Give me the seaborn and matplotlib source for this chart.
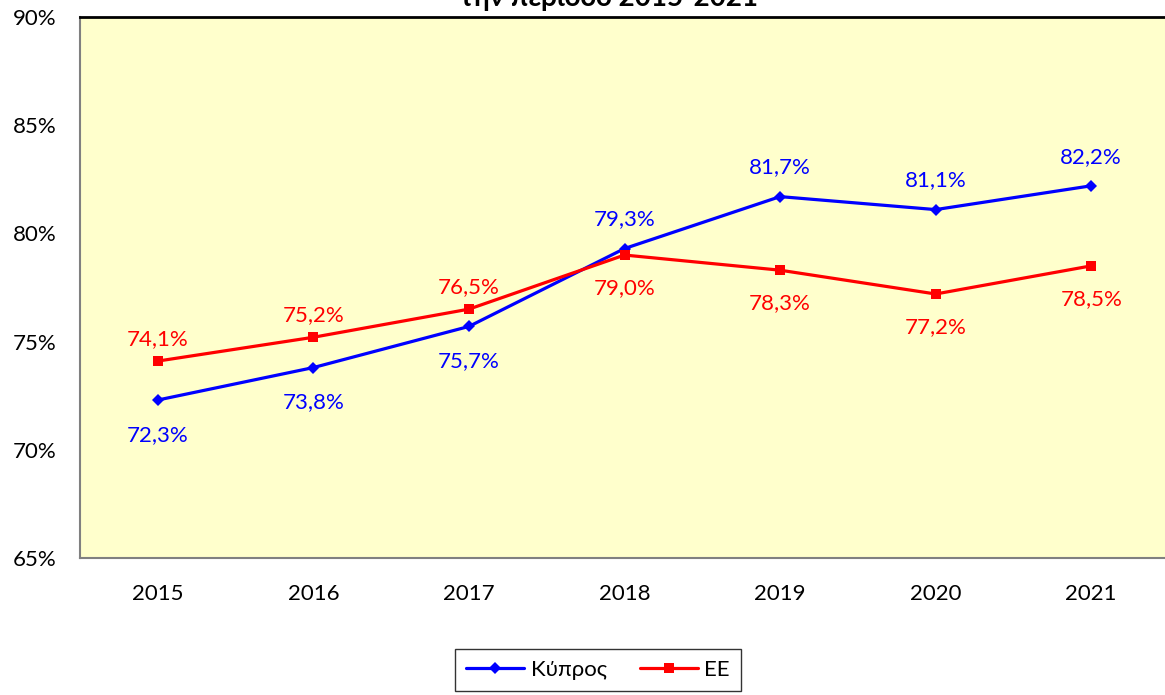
import pandas as pd
import numpy as np
import matplotlib.pyplot as plt
import seaborn as sns

# data
years = ["2015", "2016", "2017", "2018", "2019", "2020", "2021"]
cyprus = [72.3, 73.8, 75.7, 79.3, 81.7, 81.1, 82.2]
eu = [74.1, 75.2, 76.5, 79.0, 78.3, 77.2, 78.5]
# label above (+1) or below (-1) the point
cyprus_side = [-1, -1, -1, 1, 1, 1, 1]
eu_side = [1, 1, 1, -1, -1, -1, -1]

sns.set_style("white")
plt.rcParams['font.family'] = ['Lato', 'DejaVu Sans']
plt.rcParams['text.color'] = 'black'
plt.rcParams['xtick.color'] = 'black'
plt.rcParams['ytick.color'] = 'black'

df = pd.DataFrame({"pos": np.arange(len(years)), "year": years,
                   "Κύπρος": cyprus, "ΕΕ": eu})

fig = plt.figure(figsize=(11.65, 6.95), dpi=100)
ax = fig.add_axes([80/1165, 1-558/695, (1169-80)/1165, (558-17)/695])
ax.set_facecolor("#FFFFCC")

sns.lineplot(data=df, x="pos", y="Κύπρος", color="#0000FF", marker="D",
             markersize=6, linewidth=2.3, markeredgewidth=0, label="Κύπρος", ax=ax)
sns.lineplot(data=df, x="pos", y="ΕΕ", color="#FF0000", marker="s",
             markersize=7.5, linewidth=2.3, markeredgewidth=0, label="ΕΕ", ax=ax)

for i, (v, s) in enumerate(zip(cyprus, cyprus_side)):
    off = 21 if s > 0 else -25
    ax.annotate(f"{v:.1f}".replace(".", ",") + "%", (i, v), xytext=(0, off),
                textcoords="offset points", ha="center", va="center",
                color="#0000FF", fontsize=16)
for i, (v, s) in enumerate(zip(eu, eu_side)):
    off = 16 if s > 0 else -24
    ax.annotate(f"{v:.1f}".replace(".", ",") + "%", (i, v), xytext=(0, off),
                textcoords="offset points", ha="center", va="center",
                color="#FF0000", fontsize=16)

ax.set_xlim(-0.5, len(years) - 0.5)
ax.set_ylim(65, 90)
ax.set_yticks(np.arange(65, 91, 5))
ax.set_yticklabels([f"{t}%" for t in range(65, 91, 5)], fontsize=16)
ax.set_xticks(np.arange(len(years)))
ax.set_xticklabels(years, fontsize=16)
ax.set_xticks(np.arange(len(years) + 1) - 0.5, minor=True)
ax.tick_params(axis="x", which="major", length=0, pad=19)
ax.tick_params(axis="x", which="minor", length=6, color="#808080", width=1.5)
ax.tick_params(axis="y", length=6, color="#808080", width=1.5, pad=11)
ax.set_xlabel("")
ax.set_ylabel("")

for side in ["left", "bottom"]:
    ax.spines[side].set_color("#808080")
    ax.spines[side].set_linewidth(1.5)
ax.spines["top"].set_color("black")
ax.spines["top"].set_linewidth(2)
ax.spines["right"].set_visible(False)

ax.legend(loc="center", bbox_to_anchor=(598/1165, 1-670/695),
          bbox_transform=fig.transFigure, ncol=2, fontsize=16,
          frameon=True, fancybox=False, edgecolor="black", handlelength=2.6,
          handletextpad=0.3, columnspacing=1.5, borderpad=0.5, borderaxespad=0)
ax.get_legend().get_frame().set_linewidth(1)

# title, partly cut off at the top as in the original
fig.text(609/1165, 1-6/695, "την περίοδο 2015-2021", ha="center", va="baseline",
         fontsize=20, fontweight="bold")

fig.savefig("out.png", dpi=100)
